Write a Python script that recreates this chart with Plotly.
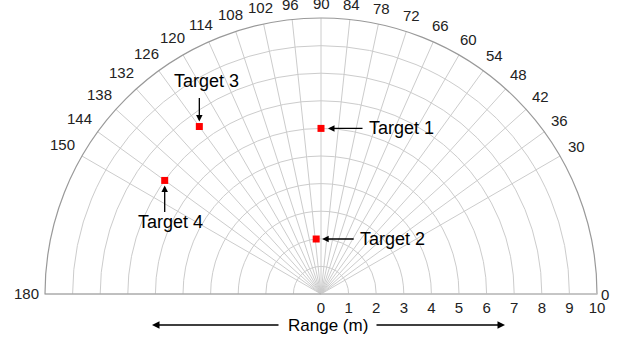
import math
import plotly.graph_objects as go

# ---- data ----
angle_ticks = [0, 30, 36, 42, 48, 54, 60, 66, 72, 78, 84, 90, 96, 102, 108,
               114, 120, 126, 132, 138, 144, 150, 180]
range_ticks = [0, 1, 2, 3, 4, 5, 6, 7, 8, 9, 10]
target_names = ["Target 1", "Target 2", "Target 3", "Target 4"]
target_range = [6.0, 2.0, 7.5, 7.0]
target_angle = [90, 95, 126, 144]

RMAX = 10
LABEL_R = 10.33          # where the nearest edge of an angular label sits
W, H = 624, 341
ML, MR, MT, MB = 45, 27, 18, 47
FONT = "Liberation Sans, Arial, sans-serif"
TICK_SIZE = 15
TICK_FONT = dict(family=FONT, size=TICK_SIZE, color="#222222")

fig = go.Figure()
fig.add_trace(go.Scatterpolar(
    r=target_range, theta=target_angle, mode="markers",
    marker=dict(symbol="square", size=7, color="#ff0000"),
    showlegend=False, hoverinfo="skip"))


def to_paper(r, th):
    a = math.radians(th)
    return 0.5 + 0.5 * (r / RMAX) * math.cos(a), (r / RMAX) * math.sin(a)


annotations = []
# angular tick labels placed around the arc, pushed outward by half their extent
for a in angle_ticks:
    if a == 0:
        x, y = to_paper(RMAX, a)
        annotations.append(dict(x=x, y=y, xref="paper", yref="paper",
                                text=str(a), showarrow=False, xanchor="left",
                                yanchor="middle", xshift=2, font=TICK_FONT))
    elif a == 180:
        x, y = to_paper(RMAX, a)
        annotations.append(dict(x=x, y=y, xref="paper", yref="paper",
                                text=str(a), showarrow=False, xanchor="right",
                                yanchor="middle", xshift=-4, font=TICK_FONT))
    else:
        rad = math.radians(a)
        hw = 0.556 * TICK_SIZE * len(str(a)) / 2
        hh = 5.5
        ext = hw * abs(math.cos(rad)) + hh * abs(math.sin(rad))
        x, y = to_paper(LABEL_R, a)
        annotations.append(dict(x=x, y=y, xref="paper", yref="paper",
                                text=str(a), showarrow=False, xanchor="center",
                                yanchor="middle",
                                xshift=ext * math.cos(rad),
                                yshift=ext * math.sin(rad),
                                font=TICK_FONT))

# arrow tail offsets (px) and standoffs, text offsets (px) for each target
arrow_style = {
    "Target 1": dict(ax=43, ay=0, standoff=7, tx=46, ty=0, xanchor="left"),
    "Target 2": dict(ax=39, ay=0, standoff=6, tx=42, ty=0, xanchor="left"),
    "Target 3": dict(ax=0, ay=-30, standoff=5, tx=7, ty=-46, xanchor="center"),
    "Target 4": dict(ax=0, ay=33, standoff=5, tx=6, ty=42, xanchor="center"),
}

for name, r, th in zip(target_names, target_range, target_angle):
    x, y = to_paper(r, th)
    s = arrow_style[name]
    annotations.append(dict(
        x=x, y=y, xref="paper", yref="paper", text="", showarrow=True,
        ax=s["ax"], ay=s["ay"], arrowhead=2, arrowsize=1, arrowwidth=1.3,
        arrowcolor="#000000", standoff=s["standoff"]))
    annotations.append(dict(
        x=x, y=y, xref="paper", yref="paper", text=name, showarrow=False,
        xshift=s["tx"], yshift=-s["ty"], xanchor=s["xanchor"], yanchor="middle",
        font=dict(family=FONT, size=18, color="#000000")))

# Range label and arrows below the axis
ylab = -31 / (H - MT - MB)
annotations.append(dict(x=0.5, y=ylab, xref="paper", yref="paper",
                        text="Range (m)", showarrow=False, yanchor="middle",
                        xshift=7,
                        font=dict(family=FONT, size=17, color="#000000")))
annotations.append(dict(x=(152 - ML) / (W - ML - MR), y=ylab, xref="paper",
                        yref="paper", text="", showarrow=True, ax=128, ay=0,
                        arrowhead=2, arrowsize=1, arrowwidth=1.5,
                        arrowcolor="#000000"))
annotations.append(dict(x=(505 - ML) / (W - ML - MR), y=ylab, xref="paper",
                        yref="paper", text="", showarrow=True, ax=-130, ay=0,
                        arrowhead=2, arrowsize=1, arrowwidth=1.5,
                        arrowcolor="#000000"))

fig.update_layout(
    width=W, height=H,
    margin=dict(l=ML, r=MR, t=MT, b=MB, autoexpand=False),
    paper_bgcolor="white",
    font=dict(family=FONT, size=15, color="#222222"),
    polar=dict(
        sector=[0, 180],
        bgcolor="white",
        domain=dict(x=[0, 1], y=[0, 1]),
        angularaxis=dict(
            direction="counterclockwise", rotation=0,
            tickmode="array", tickvals=angle_ticks,
            showticklabels=False,
            showgrid=True, gridcolor="#cccccc", gridwidth=1,
            showline=True, linecolor="#999999", linewidth=1.2,
            ticks="",
        ),
        radialaxis=dict(
            range=[0, RMAX], angle=0, side="clockwise",
            tickmode="array", tickvals=range_ticks,
            ticktext=[str(v) for v in range_ticks],
            showgrid=True, gridcolor="#cccccc", gridwidth=1,
            showline=True, linecolor="#cccccc", linewidth=1,
            ticks="", tickangle=0,
            tickfont=TICK_FONT,
        ),
    ),
    annotations=annotations,
)

fig.write_html("out.html",
               config={"displayModeBar": False},
               post_script="document.body.style.margin='0px';"
                           "document.body.style.overflow='hidden';")
